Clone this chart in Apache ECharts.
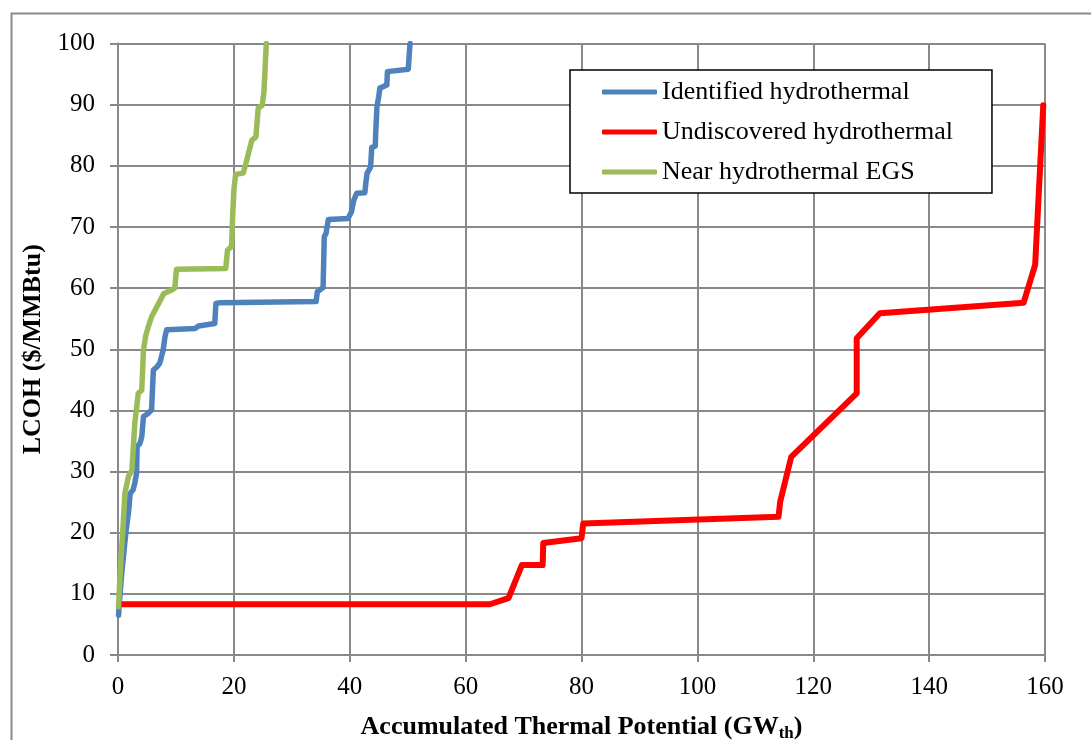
<!DOCTYPE html>
<html>
<head>
<meta charset="utf-8">
<script src="https://cdn.jsdelivr.net/npm/echarts@6/dist/echarts.min.js"></script>
<style>
  html, body { margin: 0; padding: 0; background: #fff; }
  #chart { width: 1091px; height: 740px; }
</style>
</head>
<body>
<div id="chart"></div>
<script>
// Supply curves: accumulated thermal potential (GWth) vs. levelized cost of heat ($/MMBtu)
const seriesNames = ['Identified hydrothermal', 'Undiscovered hydrothermal', 'Near hydrothermal EGS'];
const seriesColors = ['#4F81BD', '#FF0000', '#9BBB59'];

const identifiedX = [0.1, 0.2, 0.7, 1.4, 1.8, 2.1, 2.6, 2.9, 3.2, 3.3, 3.8, 4.1, 4.4, 5.2, 5.8, 6.1, 6.7, 7.2, 7.8, 8.1, 8.4,
  13.3, 13.9, 16.7, 16.9, 17.6, 34.2, 34.4, 35.4, 35.6, 35.9, 36.3, 39.7, 40.3, 40.7, 41.2, 42.6, 42.8, 43.0, 43.6,
  43.8, 44.4, 44.5, 44.7, 45.0, 45.2, 46.4, 46.5, 50.1, 50.4];
const identifiedY = [6.5, 8.1, 13.9, 20.4, 23.2, 26.4, 27.0, 28.1, 29.7, 34.1, 34.6, 35.7, 39.0, 39.5, 40.1, 46.6, 47.1, 47.7, 49.9, 52.0, 53.2,
  53.4, 53.8, 54.2, 57.5, 57.6, 57.8, 59.4, 60.1, 68.4, 68.9, 71.2, 71.4, 72.5, 74.4, 75.5, 75.6, 77.4, 78.8, 79.8,
  83.0, 83.2, 85.8, 89.7, 91.3, 92.7, 93.2, 95.4, 95.8, 100];

const undiscoveredX = [0.3, 64.2, 67.4, 69.7, 73.3, 73.4, 80.0, 80.3, 114.0, 114.3, 116.2, 127.5, 127.5, 131.5, 156.3, 158.3, 159.7];
const undiscoveredY = [8.3, 8.3, 9.3, 14.7, 14.7, 18.3, 19.1, 21.5, 22.6, 25.1, 32.4, 42.8, 51.8, 55.9, 57.6, 63.8, 89.9];

const egsX = [0.1, 0.2, 0.5, 0.9, 1.2, 1.8, 2.4, 2.9, 3.5, 4.1, 4.4, 4.8, 5.4, 5.8, 7.9, 9.1, 9.8, 10.1, 18.6, 18.9, 19.6,
  19.8, 20.0, 20.3, 21.6, 22.0, 23.1, 23.8, 24.2, 24.9, 25.2, 25.6];
const egsY = [7.9, 10.0, 15.5, 21.5, 26.5, 29.2, 30.2, 37.9, 42.8, 43.3, 49.9, 52.3, 54.2, 55.3, 59.1, 59.6, 60.0, 63.1, 63.2, 66.2, 66.8,
  72.0, 76.0, 78.6, 78.8, 80.1, 84.2, 84.7, 89.4, 89.9, 92.2, 100];

const xTicks = { min: 0, max: 160, interval: 20 };
const yTicks = { min: 0, max: 100, interval: 10 };

const pairs = (xs, ys) => xs.map((x, i) => [x, ys[i]]);
const seriesData = [pairs(identifiedX, identifiedY), pairs(undiscoveredX, undiscoveredY), pairs(egsX, egsY)];
const lineWidths = [5.5, 6, 5.5];

const FONT = '"Liberation Serif", "Times New Roman", serif';
const GRID_GRAY = '#898989';

const chart = echarts.init(document.getElementById('chart'), null, { renderer: 'canvas' });

chart.setOption({
  backgroundColor: '#ffffff',
  animation: false,
  textStyle: { fontFamily: FONT, color: '#000' },
  graphic: [{
    type: 'rect',
    left: 9, top: 11,
    shape: { width: 1100, height: 760 },
    style: { fill: 'none', stroke: GRID_GRAY, lineWidth: 2 },
    silent: true, z: -1
  }],
  grid: { left: 118, right: 46, top: 43.5, bottom: 85, containLabel: false, outerBoundsMode: 'none' },
  legend: {
    orient: 'vertical',
    left: 570, top: 70,
    padding: [2, 39, 1, 32],
    itemGap: 0,
    itemWidth: 55, itemHeight: 5,
    borderColor: '#000', borderWidth: 1.5,
    backgroundColor: '#fff',
    textStyle: { fontFamily: FONT, fontSize: 26, color: '#000', lineHeight: 40 },
    data: seriesNames.map(n => ({ name: n, icon: 'roundRect' }))
  },
  xAxis: {
    type: 'value',
    min: xTicks.min, max: xTicks.max, interval: xTicks.interval,
    name: '{b|Accumulated Thermal Potential (GW}{s|th}{b|)}',
    nameLocation: 'middle', nameGap: 58,
    nameTextStyle: {
      rich: {
        b: { fontFamily: FONT, fontSize: 26, fontWeight: 'bold', color: '#000' },
        s: { fontFamily: FONT, fontSize: 17, fontWeight: 'bold', color: '#000', padding: [12, 0, 0, 0] }
      }
    },
    axisLine: { lineStyle: { color: GRID_GRAY, width: 2 } },
    axisTick: { show: true, inside: false, length: 7, lineStyle: { color: GRID_GRAY, width: 2 } },
    axisLabel: { fontFamily: FONT, fontSize: 25, color: '#000', margin: 20 },
    splitLine: { show: true, lineStyle: { color: GRID_GRAY, width: 2 } }
  },
  yAxis: {
    type: 'value',
    min: yTicks.min, max: yTicks.max, interval: yTicks.interval,
    name: 'LCOH ($/MMBtu)',
    nameLocation: 'middle', nameGap: 72,
    nameTextStyle: { fontFamily: FONT, fontSize: 26, fontWeight: 'bold', color: '#000' },
    axisLine: { show: true, lineStyle: { color: GRID_GRAY, width: 2 } },
    axisTick: { show: true, inside: false, length: 8, lineStyle: { color: GRID_GRAY, width: 2 } },
    axisLabel: { fontFamily: FONT, fontSize: 25, color: '#000', margin: 23 },
    splitLine: { show: true, lineStyle: { color: GRID_GRAY, width: 2 } }
  },
  series: seriesNames.map((name, i) => ({
    name,
    type: 'line',
    data: seriesData[i],
    showSymbol: false,
    symbol: 'none',
    color: seriesColors[i],
    lineStyle: { color: seriesColors[i], width: lineWidths[i], join: 'round', cap: 'round' },
    z: 2 + i
  }))
});
</script>
</body>
</html>
